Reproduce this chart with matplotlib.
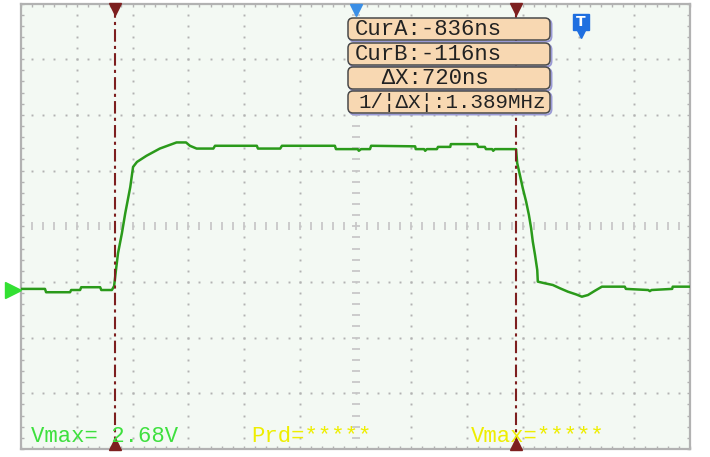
import numpy as np
import matplotlib.pyplot as plt
from matplotlib.patches import FancyBboxPatch
from matplotlib.transforms import Affine2D, blended_transform_factory

# trace (time in ns, volts)
t_ns = [-1004, -961, -959, -916, -914, -898, -896, -862, -860, -841, -837,
        -834, -830, -823, -817, -808, -803, -796, -779, -755, -725,
        -708, -701, -689, -659, -656, -581, -579, -539, -536, -441,
        -439, -400, -398, -394, -378, -376, -297, -296, -281, -279,
        -276, -258, -256, -234, -233, -186, -184, -172, -170, -159,
        -157, -154, -116,
        -114, -109, -104, -98, -93, -89, -86, -82, -78, -77,
        -64, -50, -37, -23, -8, 2, 13, 26, 38, 79,
        81, 121, 124, 127, 164, 165, 196]
volts = [0.02, 0.02, -0.04, -0.04, 0.0, 0.0, 0.05, 0.05, 0.0, 0.0, 0.07,
         0.33, 0.66, 1.02, 1.38, 1.85, 2.21, 2.30, 2.41, 2.54, 2.65,
         2.65, 2.59, 2.54, 2.54, 2.59, 2.59, 2.54, 2.54, 2.59, 2.59,
         2.53, 2.53, 2.50, 2.53, 2.53, 2.59, 2.58, 2.53, 2.53, 2.50,
         2.53, 2.53, 2.57, 2.57, 2.62, 2.62, 2.57, 2.57, 2.53, 2.53,
         2.50, 2.53, 2.53,
         2.28, 2.06, 1.83, 1.59, 1.35, 1.11, 0.87, 0.63, 0.36, 0.15,
         0.12, 0.09, 0.03, -0.03, -0.08, -0.12, -0.09, -0.01, 0.06, 0.06,
         0.02, 0.0, -0.02, 0.0, 0.02, 0.06, 0.06]

cursors = [-836, -116]
cursor_labels = ["CurA:-836ns", "CurB:-116ns", "  ΔX:720ns", "1/¦ΔX¦:1.389MHz"]
meas_labels = ["Vmax= 2.68V", "Prd=*****", "Vmax=*****"]

t_center = -404          # screen centre
t_div, v_div = 100, 1.0
v_center = 1.145
xlim = (t_center - 6 * t_div, t_center + 6 * t_div)
ylim = (v_center - 4 * v_div, v_center + 4 * v_div)

W, H = 710, 457
fig = plt.figure(figsize=(W / 100, H / 100), dpi=100, facecolor='white')
ax = fig.add_axes([21 / W, 8 / H, 669 / W, 445.5 / H])
ax.set_facecolor('#f3f9f3')
ax.set_xlim(xlim)
ax.set_ylim(ylim)

gray = '#b2b2b2'
for s in ax.spines.values():
    s.set_color(gray)
    s.set_linewidth(1.6)
ax.set_xticks(np.arange(xlim[0], xlim[1] + 1, t_div))
ax.set_yticks(np.arange(ylim[0], ylim[1] + 0.01, v_div))
ax.set_xticks(np.arange(xlim[0], xlim[1] + 1, t_div / 5), minor=True)
ax.set_yticks(np.arange(ylim[0], ylim[1] + 0.01, v_div / 5), minor=True)
ax.tick_params(which='both', direction='in', length=2.5, width=1, color=gray,
               top=True, right=True, labelbottom=False, labelleft=False)

# dotted graticule
xs_fine = np.arange(xlim[0], xlim[1] + 1, t_div / 5)[1:-1]
ys_fine = np.arange(ylim[0], ylim[1] + 0.01, v_div / 5)[1:-1]
for k in range(1, 12):
    if k == 6:
        continue
    x = xlim[0] + k * t_div
    ax.plot(np.full_like(ys_fine, x), ys_fine, 's', ms=1.4, color=gray, mew=0)
for k in range(1, 8):
    if k == 4:
        continue
    y = ylim[0] + k * v_div
    ax.plot(xs_fine, np.full_like(xs_fine, y), 's', ms=1.4, color=gray, mew=0)
# centre cross
ax.plot(np.full_like(ys_fine, t_center), ys_fine, '_', ms=5.5, mew=1.3, color='#c8c8c8')
ax.plot(xs_fine, np.full_like(xs_fine, v_center), '|', ms=5.5, mew=1.3, color='#c8c8c8')

# trace
ax.plot(t_ns, volts, color='#2a9a1a', lw=1.8, zorder=3)

# cursors
maroon = '#7d1f1f'
tr = blended_transform_factory(ax.transData, ax.transAxes)
for c in cursors:
    ax.axvline(c, color=maroon, lw=1.5, dashes=[6, 2, 1.5, 2], zorder=4)
    ax.plot(c, 0.988, 'v', ms=8, color=maroon, transform=tr, clip_on=False, zorder=5)
    ax.plot(c, 0.012, '^', ms=8, color=maroon, transform=tr, clip_on=False, zorder=5)

# trigger position / level markers
ax.plot(t_center, 0.986, 'v', ms=9, color='#3a8ee6', transform=tr, clip_on=False, zorder=5)
ax.plot(0, 0.958, 's', ms=12, color='#1f6fe0', transform=tr, clip_on=False, zorder=5)
ax.plot(0, 0.939, 'v', ms=10, color='#1f6fe0', transform=tr, clip_on=False, zorder=5)
ax.text(0, 0.958, 'T', color='white', fontsize=10, fontweight='bold',
        ha='center', va='center', transform=tr, zorder=6)
gtr = blended_transform_factory(ax.transAxes, ax.transData)
ax.plot(-0.012, 0, '>', ms=11, color='#33e033', transform=gtr, clip_on=False, zorder=5)

# pixel coordinates, origin top-left
pix = Affine2D().scale(1, -1).translate(0, H).scale(1 / W, 1 / H) + fig.transFigure

mono = ['Liberation Mono', 'DejaVu Sans Mono']
box_tops = [18, 43, 67, 91]
text_x = [355, 355, 355, 358]
for top, x, lab in zip(box_tops, text_x, cursor_labels):
    shadow = FancyBboxPatch((349.5, top + 1.5), 202, 22,
                            boxstyle='round,pad=0,rounding_size=5',
                            transform=pix, fc='none', ec='#9a9ad6', lw=1.4)
    box = FancyBboxPatch((348, top), 202, 22,
                         boxstyle='round,pad=0,rounding_size=5',
                         transform=pix, fc='#f8d8b2', ec='#4a4a4a', lw=1.1)
    fig.add_artist(shadow)
    fig.add_artist(box)
    fs = 15 if lab.startswith('1/') else 16
    fig.text(x, top + 11.5, lab, transform=pix, family=mono, fontsize=fs,
             color='#222222', ha='left', va='center')

meas_x = [31, 251, 471]
meas_col = ['#3ee03e', '#eeee00', '#eeee00']
for x, lab, col in zip(meas_x, meas_labels, meas_col):
    fig.text(x, 436, lab, transform=pix, family=mono, fontsize=16,
             color=col, ha='left', va='center', zorder=10)

fig.savefig('out.png', dpi=100, facecolor='white')
